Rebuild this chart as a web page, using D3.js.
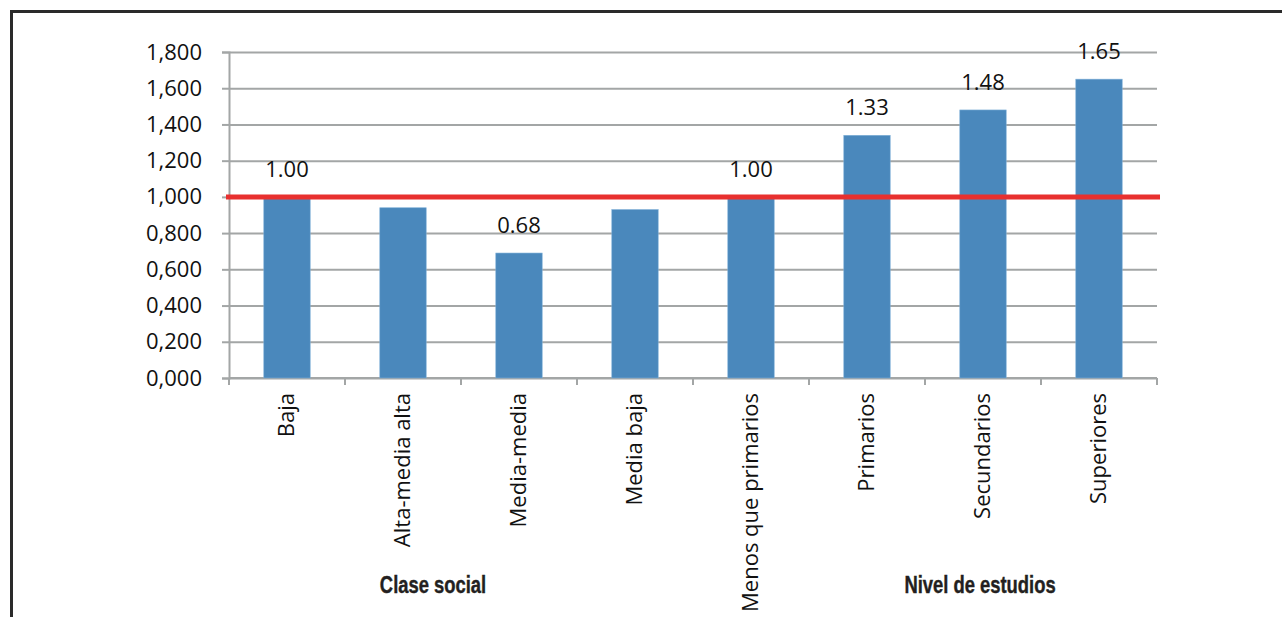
<html>
    <head>
        <meta charset="utf-8">
        <title>Clase social / Nivel de estudios</title>
        <style>
            body { margin: 0; background: #fff; }
        </style>
    </head>
    <body>

        <div id="chart-area"></div>

        <script src="https://d3js.org/d3.v7.min.js"></script>

        <script>

            // data
            const categories = ["Baja", "Alta-media alta", "Media-media", "Media baja",
                                "Menos que primarios", "Primarios", "Secundarios", "Superiores"]
            const values = [1.00, 0.94, 0.69, 0.93, 1.00, 1.34, 1.48, 1.65]
            const valueLabels = ["1.00", null, "0.68", null, "1.00", "1.33", "1.48", "1.65"]
            const yTicks = [0, 0.2, 0.4, 0.6, 0.8, 1.0, 1.2, 1.4, 1.6, 1.8]
            const groups = ["Clase social", "Nivel de estudios"]
            const reference = 1.0

            const MARGIN = { LEFT: 229, TOP: 52 }
            const WIDTH = 1157 - 229
            const HEIGHT = 378 - 52

            const svg = d3.select("#chart-area")
                .append("svg")
                    .attr("width", 1282)
                    .attr("height", 617)

            // frame round the figure
            svg.append("rect")
                .attr("x", 11.5)
                .attr("y", 11.5)
                .attr("width", 1400)
                .attr("height", 800)
                .attr("fill", "none")
                .attr("stroke", "#2a2a2a")
                .attr("stroke-width", 3)

            const g = svg.append("g")
                .attr("transform", `translate(${MARGIN.LEFT}, ${MARGIN.TOP})`)

            // scales
            const x = d3.scaleBand()
                .domain(categories)
                .range([0, WIDTH])
                .paddingInner(0.6)
                .paddingOuter(0.3)

            const y = d3.scaleLinear()
                .domain([0, 1.8])
                .range([HEIGHT, 0])

            const commaLocale = d3.formatLocale({ decimal: ",", thousands: ".", grouping: [3], currency: ["", ""] })

            // gridlines
            g.append("g")
                .call(d3.axisLeft(y).tickValues(yTicks).tickSize(-WIDTH).tickFormat(""))
                .call(a => a.select(".domain").remove())
                .selectAll("line")
                    .attr("stroke", "#a3a6a6")
                    .attr("stroke-width", 2)

            // y axis
            g.append("g")
                .call(d3.axisLeft(y).tickValues(yTicks).tickSize(7).tickPadding(20)
                        .tickFormat(commaLocale.format(".3f")))
                .call(a => a.select(".domain").attr("stroke", "#a3a6a6").attr("stroke-width", 2))
                .call(a => a.selectAll("line").attr("stroke", "#a3a6a6").attr("stroke-width", 2))
                .selectAll("text")
                    .attr("font-family", "'Open Sans', sans-serif")
                    .attr("font-size", "22px")
                    .attr("fill", "#111")

            // x axis line + ticks at the category boundaries
            g.append("line")
                .attr("x1", 0)
                .attr("x2", WIDTH)
                .attr("y1", HEIGHT)
                .attr("y2", HEIGHT)
                .attr("stroke", "#a3a6a6")
                .attr("stroke-width", 2)

            g.selectAll(".xtick")
                .data(d3.range(categories.length + 1))
                .enter()
                .append("line")
                    .attr("class", "xtick")
                    .attr("x1", i => i * x.step())
                    .attr("x2", i => i * x.step())
                    .attr("y1", HEIGHT)
                    .attr("y2", HEIGHT + 7)
                    .attr("stroke", "#a3a6a6")
                    .attr("stroke-width", 2)

            // bars
            g.selectAll(".bar")
                .data(values)
                .enter()
                .append("rect")
                    .attr("class", "bar")
                    .attr("x", (d, i) => x(categories[i]))
                    .attr("y", d => y(d))
                    .attr("width", x.bandwidth())
                    .attr("height", d => HEIGHT - y(d))
                    .attr("fill", "#4a88bc")
                    .attr("stroke", "#7fb0d8")
                    .attr("stroke-width", 0.6)

            // reference line at 1
            g.append("line")
                .attr("x1", -3)
                .attr("x2", WIDTH + 3)
                .attr("y1", y(reference))
                .attr("y2", y(reference))
                .attr("stroke", "#e8302f")
                .attr("stroke-width", 5)

            // value labels
            g.selectAll(".vlabel")
                .data(values)
                .enter()
                .append("text")
                    .attr("class", "vlabel")
                    .attr("x", (d, i) => x(categories[i]) + x.bandwidth() / 2)
                    .attr("y", d => y(d) - 20)
                    .attr("text-anchor", "middle")
                    .attr("font-family", "'Open Sans', sans-serif")
                    .attr("font-size", "22px")
                    .attr("fill", "#111")
                    .text((d, i) => valueLabels[i] || "")

            // category labels (rotated)
            g.selectAll(".clabel")
                .data(categories)
                .enter()
                .append("text")
                    .attr("class", "clabel")
                    .attr("transform", d => `translate(${x(d) + x.bandwidth() / 2}, ${HEIGHT + 15}) rotate(-90)`)
                    .attr("dy", "0.3em")
                    .attr("text-anchor", "end")
                    .attr("font-family", "'Open Sans', sans-serif")
                    .attr("font-size", "22px")
                    .attr("fill", "#111")
                    .text(d => d)

            // group titles (condensed bold, squeezed horizontally)
            const groupX = [433, 980]
            groups.forEach((t, i) => {
                svg.append("text")
                    .attr("transform", `translate(${groupX[i]}, 593) scale(0.8, 1)`)
                    .attr("text-anchor", "middle")
                    .attr("font-family", "'Liberation Sans', Arial, sans-serif")
                    .attr("font-weight", "bold")
                    .attr("font-size", "23px")
                    .attr("fill", "#231f20")
                    .attr("stroke", "#231f20")
                    .attr("stroke-width", 0.4)
                    .text(t)
            })

        </script>
    </body>
</html>
